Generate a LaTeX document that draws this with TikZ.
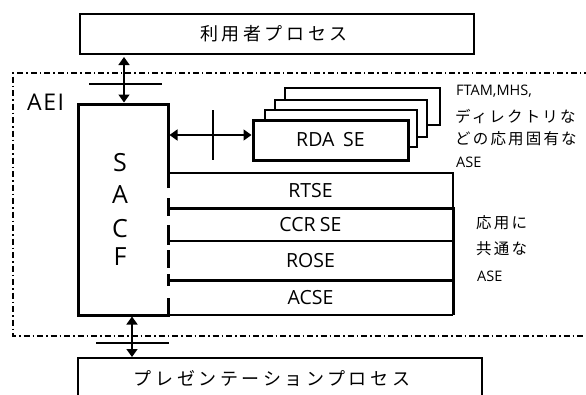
\documentclass[tikz,border=0pt]{standalone}
\usepackage{fontspec}
\setmainfont{Noto Sans CJK JP}
\newfontfamily\jpsp[LetterSpace=20]{Noto Sans CJK JP}
\newfontfamily\jpsm[LetterSpace=14]{Noto Sans CJK JP}
\newfontfamily\lat{Open Sans}
\newfontfamily\latsp[LetterSpace=7]{Open Sans}
\usetikzlibrary{arrows.meta,calc}
\begin{document}
\begin{tikzpicture}[x=1pt,y=-1pt,
  box/.style={rectangle,inner sep=0pt,outer sep=0pt,anchor=north west},
  thinline/.style={line width=1.5pt},
  thickline/.style={line width=3pt},
  midline/.style={line width=2pt},
  dbl/.style={line width=1.5pt,{Triangle[width=11pt,length=8pt]}-{Triangle[width=11pt,length=8pt]}},
  barline/.style={line width=2.5pt},
  aei/.style={line width=1.6pt,dash pattern=on 6pt off 3pt on 1.5pt off 3pt},
  lbl/.style={font=\lat\fontsize{19.5}{21}\selectfont,inner sep=0pt},
  note/.style={anchor=west,inner sep=0pt},
  notefont/.style={font=\lat\fontsize{14.5}{16}\selectfont},
  notejp/.style={font=\jpsm\fontsize{15.5}{17}\selectfont}
]
\useasboundingbox (0,0) rectangle (586,394);
\clip (0,0) rectangle (586,394);

% AEI boundary
\draw[aei] (590,73) -- (13,73) -- (13,336) -- (590,336);
\node[anchor=west,inner sep=0pt,font=\latsp\fontsize{23}{24}\selectfont] (aeil) at (27,102.5) {AEI};

% user process
\node[box,draw,thinline,minimum width=394pt,minimum height=40pt] (user) at (80,14) {};
\node[inner sep=0pt,font=\jpsp\fontsize{18}{20}\selectfont,xshift=-3pt] (usert) at (user.center) {利用者プロセス};

% presentation process (open at the bottom)
\node[box,minimum width=404pt,minimum height=42pt] (pres) at (78,358) {};
\draw[thinline] (pres.south west) -- (pres.north west) -- (pres.north east) -- (pres.south east);
\node[inner sep=0pt,font=\jpsp\fontsize{18}{20}\selectfont,xshift=-8pt,yshift=1pt] (prest) at (pres.center) {プレゼンテーションプロセス};

% SACF
\node[box,minimum width=90pt,minimum height=211pt] (sacf) at (78,104) {};
\foreach \ch/\yy [count=\i] in {S/59,A/91,C/125,F/153}
  \node[inner sep=0pt,font=\lat\fontsize{25}{26}\selectfont] (sacf\i) at ($(sacf.north west)+(42,\yy)$) {\ch};

% application specific ASEs (stack)
\node[box,draw,thinline,fill=white,minimum width=155pt,minimum height=37pt] (l3) at (285,88) {};
\node[box,draw,thinline,fill=white,minimum width=152pt,minimum height=37pt] (l2) at (275,100) {};
\node[box,draw,thinline,fill=white,minimum width=152pt,minimum height=37pt] (l1) at (265,110) {};
\node[box,draw,thickline,fill=white,minimum width=155pt,minimum height=40pt] (rda) at (253,120) {};
\node[lbl] (rdat) at (rda.center) {RDA\hspace{0.45em}SE};

% common ASEs
\node[box,minimum width=285pt,minimum height=35pt] (rtse) at (168,173) {};
\node[box,minimum width=285pt,minimum height=33pt] (ccr) at (168,208) {};
\node[box,minimum width=285pt,minimum height=39pt] (rose) at (168,241) {};
\node[box,minimum width=285pt,minimum height=35pt] (acse) at (168,280) {};
\draw[thinline] (rtse.north west) -- (rtse.north east) -- (rtse.south east);
\draw[thickline] (ccr.north west) -- (ccr.north east) -- (acse.south east);
\draw[midline] (rose.north west) -- (rose.north east);
\draw[thickline] (acse.north west) -- (acse.north east);
\node[lbl] (rtset) at (rtse.center) {RTSE};
\node[lbl] (ccrt) at (ccr.center) {CCR\hspace{0.22em}SE};
\node[lbl] (roset) at (rose.center) {ROSE};
\node[lbl] (acset) at (acse.center) {ACSE};

% SACF outline (right edge partly dashed)
\draw[midline] (sacf.south west) -- (acse.south east);
\draw[thickline] ($(sacf.north east)+(0,84)$) -- (sacf.north east) -- (sacf.north west) -- (sacf.south west) -- (sacf.south east);
\foreach \a/\b in {94/112,121/141,146/164,170/182,194/212.5}
  \draw[thickline] ($(sacf.north east)+(0,\a)$) -- ($(sacf.north east)+(0,\b)$);

% connectors
\draw[dbl] ($(user.south west)+(44,3)$) -- ($(sacf.north west)+(46,-1.5)$);
\draw[barline] (89,84) -- (162,84);
\draw[dbl] ($(sacf.north east)+(1.5,31)$) -- ($(rda.west)+(-1.5,-5)$);
\draw[barline] (213,110) -- (213,160);
\draw[dbl] ($(sacf.south west)+(54,1.5)$) -- ($(pres.north west)+(54,-1)$);
\draw[barline] (96,343) -- (169,343);

% notes
\node[note,notefont] (n1) at (456,91) {FTAM,MHS,};
\node[note,notejp] (n2) at (455,116) {ディレクトリな};
\node[note,notejp] (n3) at (455,139) {どの応用固有な};
\node[note,notefont] (n4) at (456,162) {ASE};
\node[note,notejp] (c1) at (476,223) {応用に};
\node[note,notejp] (c2) at (476,249) {共通な};
\node[note,notefont] (c3) at (477,276) {ASE};
\end{tikzpicture}
\end{document}
